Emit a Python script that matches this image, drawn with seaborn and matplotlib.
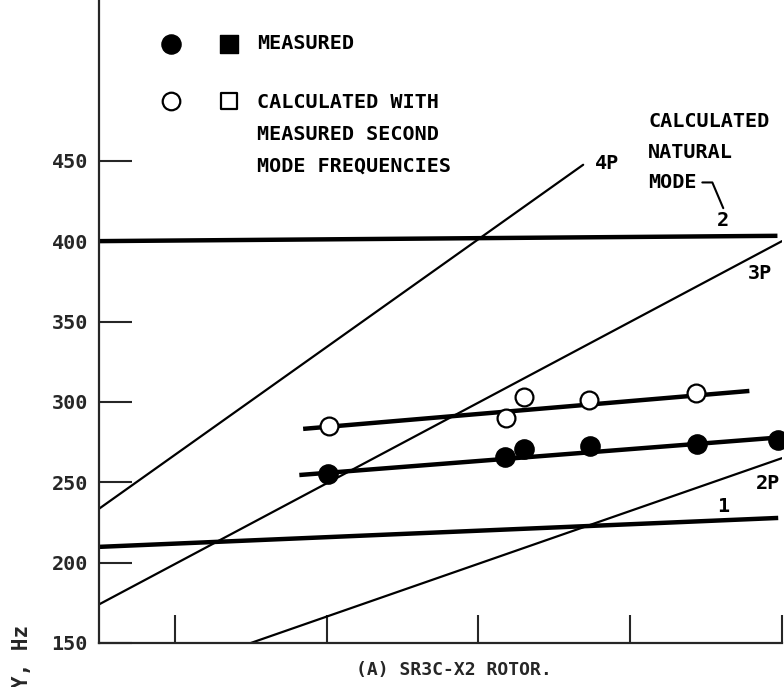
import matplotlib
matplotlib.use('Agg')
import matplotlib.pyplot as plt
import seaborn as sns
import pandas as pd

# speed (rpm) vs frequency (Hz)
meas_rpm = [5010, 6176, 6301, 6737, 7442, 7976]
meas_hz = [255.2, 265.8, 270.7, 272.6, 273.9, 276.4]
calc_rpm = [5016, 6183, 6302, 6730, 7435]
calc_hz = [285.1, 290.0, 303.1, 301.2, 305.6]

meas_fit_rpm = [4820, 8000]
meas_fit_hz = [254.5, 278.0]
calc_fit_rpm = [4845, 7785]
calc_fit_hz = [283.2, 306.8]

mode1_rpm = [3500, 7975]
mode1_hz = [209.8, 227.8]
mode2_rpm = [3500, 7970]
mode2_hz = [400.0, 403.3]

p4_rpm = [3500, 6690]
p4_hz = [233.5, 447.5]
p3_rpm = [3500, 8000]
p3_hz = [174.0, 400.0]
p2_rpm = [4500, 8000]
p2_hz = [150.0, 265.0]

x_ticks = [4000, 5000, 6000, 7000, 8000]
y_ticks = [150, 200, 250, 300, 350, 400, 450]

sns.set_style('ticks')
plt.rcParams['font.family'] = ['DejaVu Sans Mono', 'DejaVu Sans']
plt.rcParams['font.weight'] = 'bold'

fig = plt.figure(figsize=(7.84, 6.87), dpi=100)
ax = fig.add_axes([99 / 784, 44 / 687, 683 / 784, 643 / 687])

# thin order lines
for xs, ys in [(p4_rpm, p4_hz), (p3_rpm, p3_hz), (p2_rpm, p2_hz)]:
    sns.lineplot(x=xs, y=ys, ax=ax, color='black', linewidth=1.6, sort=False)

# natural modes and fitted lines
for xs, ys in [(mode1_rpm, mode1_hz), (mode2_rpm, mode2_hz),
               (meas_fit_rpm, meas_fit_hz), (calc_fit_rpm, calc_fit_hz)]:
    sns.lineplot(x=xs, y=ys, ax=ax, color='black', linewidth=3.2, sort=False,
                 solid_capstyle='butt')

sns.scatterplot(x=meas_rpm, y=meas_hz, ax=ax, color='black', edgecolor='black',
                s=190, zorder=5, clip_on=False)
sns.scatterplot(x=calc_rpm, y=calc_hz, ax=ax, color='white', edgecolor='black',
                linewidth=1.6, s=165, zorder=5, clip_on=False)

ax.set_xlim(3500, 8000)
ax.set_ylim(150, 550)
ax.set_xticks(x_ticks)
ax.set_xticklabels([])
ax.set_yticks(y_ticks)
ax.tick_params(axis='x', direction='in', length=20, width=1.5)
ax.tick_params(axis='y', direction='in', length=24, width=1.5, pad=8, labelsize=14.5)
sns.despine(ax=ax)
for s in ['left', 'bottom']:
    ax.spines[s].set_linewidth(1.6)

# curve labels
lab = dict(fontsize=14.5, color='black', fontweight='bold')
ax.text(6849, 448, '4P', ha='center', va='center', **lab)
ax.text(7857, 380, '3P', ha='center', va='center', **lab)
ax.text(7910, 249, '2P', ha='center', va='center', **lab)
ax.text(7613, 235, '1', ha='center', va='center', **lab)
ax.text(7613, 413, '2', ha='center', va='center', **lab)
ax.text(7119, 455.4, 'CALCULATED\nNATURAL\nMODE', ha='left', va='center',
        linespacing=1.75, **lab)
ax.plot([7475, 7541, 7613], [436.5, 436.5, 420.5], color='black', linewidth=1.5)

# legend block
ax.scatter([3975], [522.8], s=190, color='black', zorder=5)
ax.scatter([4357], [522.8], s=170, marker='s', color='black', zorder=5)
ax.scatter([3975], [487.4], s=160, facecolor='white', edgecolor='black',
           linewidth=1.6, zorder=5)
ax.scatter([4357], [487.4], s=140, marker='s', facecolor='white',
           edgecolor='black', linewidth=1.6, zorder=5)
ax.text(4541, 522.8, 'MEASURED', ha='left', va='center', **lab)
ax.text(4541, 466.5, 'CALCULATED WITH\nMEASURED SECOND\nMODE FREQUENCIES',
        ha='left', va='center', linespacing=1.88, **lab)

fig.text(454 / 784, 1 - 670 / 687, '(A) SR3C-X2 ROTOR.', ha='center',
         va='center', fontsize=13, fontweight='bold')
fig.text(22 / 784, 1 - 625 / 687, 'Y, Hz', rotation=90, ha='center',
         va='top', fontsize=15, fontweight='bold')

fig.savefig('out.png', dpi=100)
